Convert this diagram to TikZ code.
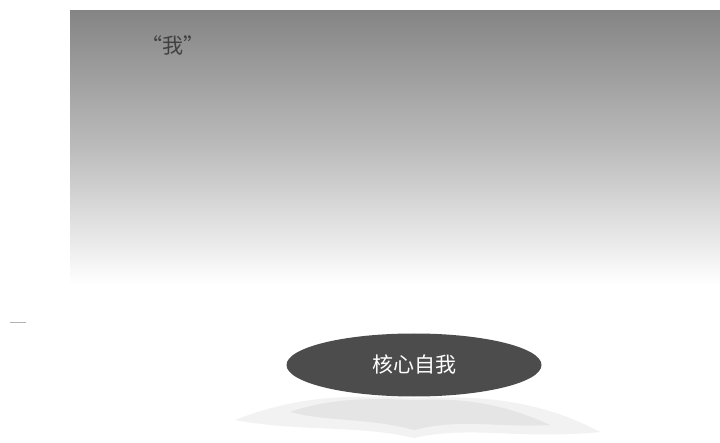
\documentclass[tikz,border=0pt]{standalone}
\usepackage{fontspec}
\newfontfamily\cjk{Noto Sans CJK SC}
\usetikzlibrary{shapes.geometric}
\begin{document}
\begin{tikzpicture}[x=1pt,y=-1pt,
  core/.style={ellipse,fill=black!70,minimum width=255pt,minimum height=63pt,inner sep=0pt,text=white,font=\cjk\fontsize{21}{21}\selectfont},
  label/.style={text=black!75,font=\cjk\fontsize{21}{21}\selectfont}]
\useasboundingbox (0,0) rectangle (720,443);
\fill[white] (0,0) rectangle (720,443);
% gradient panel
\shade[top color=black!48, bottom color=black!26] (70,11) rectangle (720,150);
\shade[top color=black!26, bottom color=white] (70,150) rectangle (720,285);
% faint mark at left
\draw[black!30,line width=0.8pt] (10,322) -- (26,322);
% shadow beneath ellipse
\fill[black!5] (235,420) .. controls (300,395) and (350,395) .. (414,398) .. controls (480,395) and (540,400) .. (600,432) .. controls (520,440) and (470,425) .. (414,438) .. controls (360,425) and (300,432) .. (235,420) -- cycle;
\fill[black!10] (290,412) .. controls (330,398) and (370,398) .. (414,400) .. controls (460,398) and (500,402) .. (550,425) .. controls (500,428) and (460,418) .. (414,430) .. controls (370,418) and (330,422) .. (290,412) -- cycle;
\node[core] (self) at (414,365) {核心自我};
\node[label] (wo) at (173,45) {“我”};
\end{tikzpicture}
\end{document}
